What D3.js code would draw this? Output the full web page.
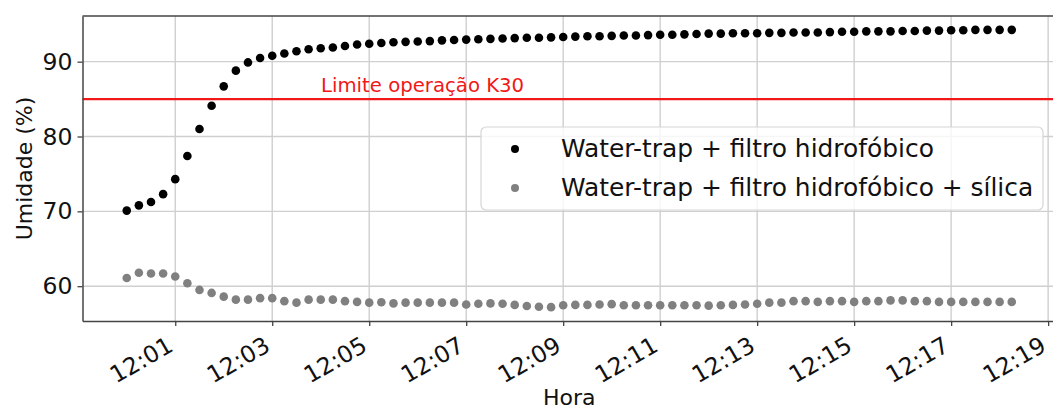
<!DOCTYPE html>
<html>
<head>
<meta charset="utf-8">
<script src="https://cdn.jsdelivr.net/npm/d3@7"></script>
<style>
    body { margin: 0; background: #fff; }
    text { font-family: "DejaVu Sans", sans-serif; }
</style>
</head>
<body>
<svg id="chart" width="1053" height="411"></svg>
<script>
// sample times (every 15 s)
let times = [
    "12:00:00", "12:00:15", "12:00:30", "12:00:45", "12:01:00", "12:01:15", "12:01:30", "12:01:45",
    "12:02:00", "12:02:15", "12:02:30", "12:02:45", "12:03:00", "12:03:15", "12:03:30", "12:03:45",
    "12:04:00", "12:04:15", "12:04:30", "12:04:45", "12:05:00", "12:05:15", "12:05:30", "12:05:45",
    "12:06:00", "12:06:15", "12:06:30", "12:06:45", "12:07:00", "12:07:15", "12:07:30", "12:07:45",
    "12:08:00", "12:08:15", "12:08:30", "12:08:45", "12:09:00", "12:09:15", "12:09:30", "12:09:45",
    "12:10:00", "12:10:15", "12:10:30", "12:10:45", "12:11:00", "12:11:15", "12:11:30", "12:11:45",
    "12:12:00", "12:12:15", "12:12:30", "12:12:45", "12:13:00", "12:13:15", "12:13:30", "12:13:45",
    "12:14:00", "12:14:15", "12:14:30", "12:14:45", "12:15:00", "12:15:15", "12:15:30", "12:15:45",
    "12:16:00", "12:16:15", "12:16:30", "12:16:45", "12:17:00", "12:17:15", "12:17:30", "12:17:45",
    "12:18:00", "12:18:15"
];

// Water-trap + filtro hidrofóbico
let semSilica = [
    70.1, 70.8, 71.25, 72.3, 74.3, 77.4, 81.0, 84.1, 86.7, 88.8,
    89.9, 90.5, 90.8, 91.1, 91.4, 91.65, 91.8, 91.9, 92.1, 92.3,
    92.4, 92.5, 92.6, 92.65, 92.7, 92.75, 92.85, 92.9, 92.95, 93.0,
    93.05, 93.1, 93.15, 93.2, 93.2, 93.25, 93.3, 93.35, 93.4, 93.4,
    93.45, 93.5, 93.5, 93.55, 93.6, 93.6, 93.65, 93.7, 93.75, 93.75,
    93.8, 93.8, 93.8, 93.85, 93.85, 93.9, 93.9, 93.9, 93.95, 94.0,
    94.0, 94.05, 94.05, 94.05, 94.1, 94.1, 94.15, 94.15, 94.2, 94.2,
    94.25, 94.25, 94.25, 94.25
];

// Water-trap + filtro hidrofóbico + sílica
let comSilica = [
    61.1, 61.8, 61.7, 61.7, 61.3, 60.4, 59.5, 59.1, 58.6, 58.2,
    58.2, 58.4, 58.4, 58.0, 57.8, 58.2, 58.2, 58.2, 58.0, 57.9,
    57.8, 57.85, 57.7, 57.8, 57.8, 57.8, 57.8, 57.8, 57.55, 57.65,
    57.7, 57.65, 57.5, 57.35, 57.25, 57.2, 57.45, 57.5, 57.5, 57.55,
    57.6, 57.45, 57.45, 57.45, 57.45, 57.45, 57.45, 57.45, 57.4, 57.45,
    57.5, 57.55, 57.65, 57.8, 57.8, 58.0, 58.0, 57.9, 58.0, 58.0,
    57.9, 58.0, 58.0, 58.1, 58.1, 58.0, 58.0, 57.9, 57.9, 57.9,
    57.9, 57.9, 57.9, 57.9
];

let xTicks = ["12:01", "12:03", "12:05", "12:07", "12:09", "12:11", "12:13", "12:15", "12:17", "12:19"];
let yTicks = [60, 70, 80, 90];
let limite = 85;
let limiteLabel = "Limite operação K30";
let seriesNames = ["Water-trap + filtro hidrofóbico", "Water-trap + filtro hidrofóbico + sílica"];
let seriesColors = ["#000000", "#808080"];

let parseTime = d3.timeParse("%H:%M:%S");
let parseTick = d3.timeParse("%H:%M");

function padded(extent) {
    let pad = (extent[1] - extent[0]) * 0.05;
    return [extent[0] - pad, extent[1] + pad];
}

function make_scales(dates, margin) {
    let xExt = d3.extent(dates).map(d => +d);
    let yExt = d3.extent(semSilica.concat(comSilica));
    return {
        x: d3.scaleTime()
            .domain(padded(xExt).map(d => new Date(d)))
            .range([margin.left, 1053 - margin.right]),
        y: d3.scaleLinear()
            .domain(padded(yExt))
            .range([411 - margin.bottom, margin.top])
    };
}

function draw_grid(svg, scales, margin) {
    let grid = svg.append("g").attr("id", "grid");
    grid.selectAll("line.vx")
        .data(xTicks.map(parseTick)).enter()
        .append("line")
        .attr("x1", d => scales.x(d)).attr("x2", d => scales.x(d))
        .attr("y1", margin.top).attr("y2", 411 - margin.bottom)
        .attr("stroke", "#cfcfcf").attr("stroke-width", 1.4);
    grid.selectAll("line.hy")
        .data(yTicks).enter()
        .append("line")
        .attr("x1", margin.left).attr("x2", 1053 - margin.right)
        .attr("y1", d => scales.y(d)).attr("y2", d => scales.y(d))
        .attr("stroke", "#cfcfcf").attr("stroke-width", 1.4);
}

function draw_axes(svg, scales, margin) {
    let x_axis = d3.axisBottom(scales.x)
        .tickValues(xTicks.map(parseTick))
        .tickFormat(d3.timeFormat("%H:%M"))
        .tickSize(5)
        .tickSizeOuter(0);
    let gx = svg.append("g")
        .attr("transform", `translate(0, ${411 - margin.bottom})`)
        .call(x_axis);
    gx.select(".domain").attr("stroke", "#444").attr("stroke-width", 1.5);
    gx.selectAll(".tick line").attr("stroke", "#444").attr("stroke-width", 1.3);
    gx.selectAll(".tick text")
        .attr("font-size", "23.5px")
        .attr("fill", "#111")
        .attr("text-anchor", "end")
        .attr("y", 0).attr("dy", 0)
        .attr("transform", "translate(-1, 29) rotate(-30)");

    let y_axis = d3.axisLeft(scales.y)
        .tickValues(yTicks)
        .tickSize(5)
        .tickSizeOuter(0);
    let gy = svg.append("g")
        .attr("transform", `translate(${margin.left}, 0)`)
        .call(y_axis);
    gy.select(".domain").attr("stroke", "#444").attr("stroke-width", 1.5);
    gy.selectAll(".tick line").attr("stroke", "#444").attr("stroke-width", 1.3);
    gy.selectAll(".tick text")
        .attr("font-size", "23.5px")
        .attr("fill", "#111")
        .attr("x", -10);

    // top spine
    svg.append("line")
        .attr("x1", margin.left).attr("x2", 1053 - margin.right)
        .attr("y1", margin.top).attr("y2", margin.top)
        .attr("stroke", "#444").attr("stroke-width", 1.5);

    svg.append("text")
        .attr("x", (margin.left + 1053 - margin.right) / 2)
        .attr("y", 405)
        .attr("text-anchor", "middle")
        .attr("font-size", "22px")
        .attr("fill", "#111")
        .text("Hora");

    svg.append("text")
        .attr("transform", `translate(32, ${(margin.top + 411 - margin.bottom) / 2}) rotate(-90)`)
        .attr("text-anchor", "middle")
        .attr("font-size", "22px")
        .attr("fill", "#111")
        .text("Umidade (%)");
}

function draw_limit(svg, scales, margin) {
    svg.append("line")
        .attr("x1", margin.left).attr("x2", 1053 - margin.right)
        .attr("y1", scales.y(limite)).attr("y2", scales.y(limite))
        .attr("stroke", "#f01818").attr("stroke-width", 2.2);
    svg.append("text")
        .attr("x", 321)
        .attr("y", scales.y(limite) - 7)
        .attr("font-size", "19.7px")
        .attr("fill", "#f01818")
        .text(limiteLabel);
}

function draw_points(svg, scales, dates) {
    let all = [semSilica, comSilica];
    all.forEach((values, k) => {
        svg.append("g")
            .selectAll("circle")
            .data(values).enter()
            .append("circle")
            .attr("cx", (d, i) => scales.x(dates[i]))
            .attr("cy", d => scales.y(d))
            .attr("r", 4.3)
            .attr("fill", seriesColors[k]);
    });
}

function draw_legend(svg) {
    let legend = svg.append("g").attr("id", "legend");
    legend.append("rect")
        .attr("x", 481).attr("y", 127)
        .attr("width", 562).attr("height", 83)
        .attr("rx", 5)
        .attr("fill", "#ffffff").attr("fill-opacity", 0.8)
        .attr("stroke", "#d6d6d6").attr("stroke-width", 1.2);
    legend.selectAll("circle")
        .data(seriesNames).enter()
        .append("circle")
        .attr("cx", 515)
        .attr("cy", (_, i) => 149 + i * 39)
        .attr("r", 4)
        .attr("fill", (_, i) => seriesColors[i]);
    legend.selectAll("text")
        .data(seriesNames).enter()
        .append("text")
        .attr("x", 561)
        .attr("y", (_, i) => 157 + i * 39)
        .attr("font-size", "24.9px")
        .attr("fill", "#111")
        .text(d => d);
}

function visualize() {
    let margin = { top: 16, right: -3, bottom: 90, left: 82.5 };
    let svg = d3.select("#chart");
    let dates = times.map(parseTime);
    let scales = make_scales(dates, margin);
    draw_grid(svg, scales, margin);
    draw_limit(svg, scales, margin);
    draw_points(svg, scales, dates);
    draw_legend(svg);
    draw_axes(svg, scales, margin);
}

visualize();
</script>
</body>
</html>
